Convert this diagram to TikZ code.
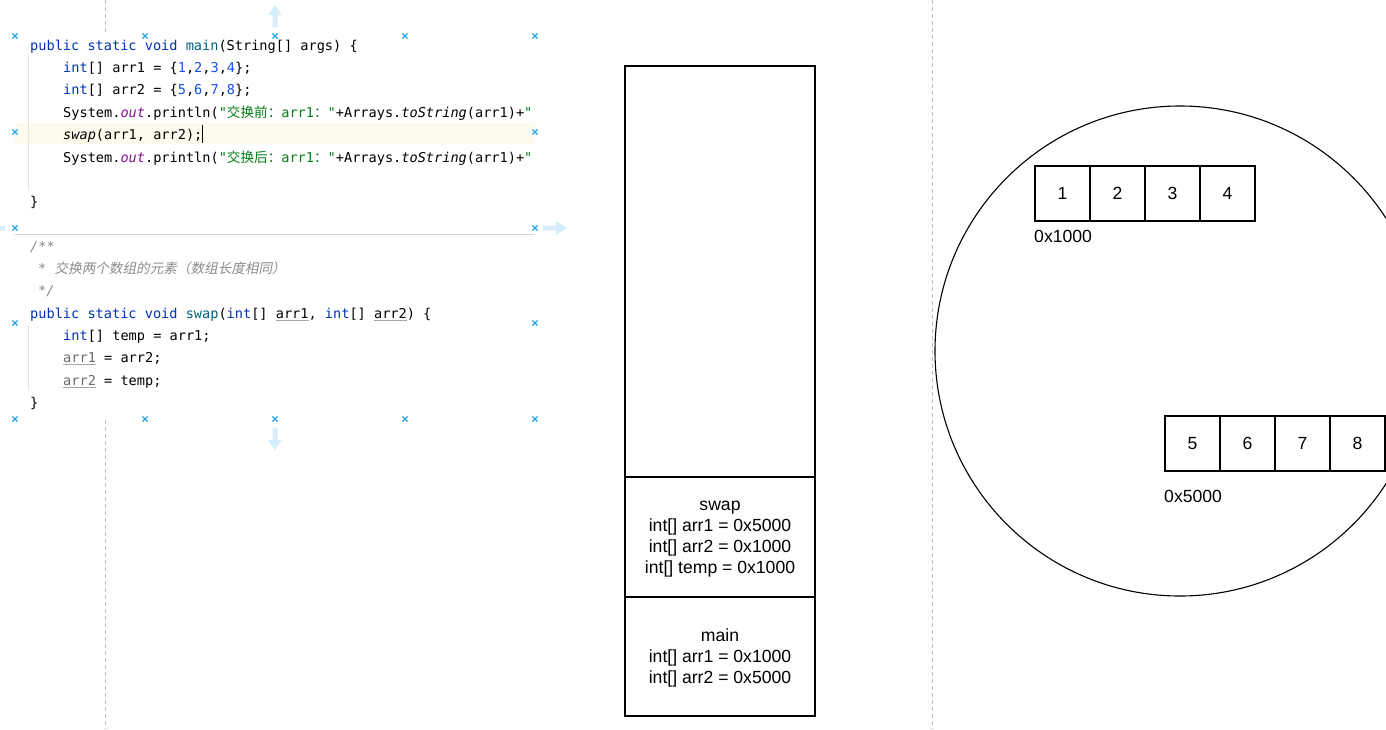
\documentclass[tikz,border=0pt]{standalone}
\usepackage{fontspec}
\setmainfont{Liberation Sans}
\newfontfamily\codefont{DejaVu Sans Mono}
\newfontfamily\cjkf{Noto Sans CJK SC}
\newfontfamily\cjkit[FakeSlant=0.2]{Noto Sans CJK SC}
\definecolor{kw}{HTML}{0033B3}
\definecolor{num}{HTML}{1750EB}
\definecolor{fn}{HTML}{00627A}
\definecolor{str}{HTML}{067D17}
\definecolor{field}{HTML}{871094}
\definecolor{cmt}{HTML}{8C8C8C}
\definecolor{reassign}{HTML}{6E6A66}
\definecolor{ulgray}{HTML}{A8A8A8}
\definecolor{markblue}{HTML}{2AA4EA}
\definecolor{arrowblue}{HTML}{D8EDFB}
\definecolor{hl}{HTML}{FCFAEC}
\definecolor{gutter}{HTML}{E4E4E4}
\definecolor{sepgray}{HTML}{D4D4D4}
\definecolor{dashgray}{HTML}{BEBEBE}
\newcommand\ulx[2][ulgray]{\setbox0=\hbox{#2}\rlap{\color{#1}\rule[-3pt]{\wd0}{0.9pt}}\box0\relax}
\newcommand\bluecross[2]{\draw[mk] (#1-2.6,#2-2.6) -- (#1+2.6,#2+2.6) (#1-2.6,#2+2.6) -- (#1+2.6,#2-2.6);}
\begin{document}
\begin{tikzpicture}[x=1pt,y=-1pt,
  codeline/.style={anchor=base west, inner sep=0, font=\codefont\fontsize{13.6}{16}\selectfont},
  mk/.style={draw=markblue, line width=1.1pt},
  guide/.style={draw=dashgray, line width=0.8pt, dash pattern=on 4pt off 3pt},
  framebox/.style={draw, line width=1.2pt, minimum width=190, inner sep=0},
  frametext/.style={align=center, inner sep=0, font=\fontsize{17.6}{21}\selectfont},
  cell/.style={draw, line width=1.1pt, minimum width=55, minimum height=55, inner sep=0, font=\fontsize{17.6}{21}\selectfont},
  addr/.style={anchor=west, inner sep=0, font=\fontsize{17.6}{21}\selectfont}]
\useasboundingbox (0,0) rectangle (1386,729);
\fill[white] (0,0) rectangle (1386,729);
% guides
\draw[guide] (105,0) -- (105,35);
\draw[guide] (105,420) -- (105,729);
\draw[guide] (932,0) -- (932,729);
% code area decorations
\fill[hl] (15,123) rectangle (535,144);
\draw[gutter, line width=0.8pt] (28,56) -- (28,190);
\draw[gutter, line width=0.8pt] (28,325) -- (28,390);
\draw[sepgray, line width=1pt] (15,234) -- (535,234);
\draw[black, line width=0.8pt] (202,125) -- (202,143);
% code
\node[codeline] (l1) at (30,50) {\textcolor{kw}{public static void} \textcolor{fn}{main}(String[] args) \{};
\node[codeline] (l2) at (63,72) {\textcolor{kw}{int}[] arr1 = \{\textcolor{num}{1},\textcolor{num}{2},\textcolor{num}{3},\textcolor{num}{4}\};};
\node[codeline] (l3) at (63,94) {\textcolor{kw}{int}[] arr2 = \{\textcolor{num}{5},\textcolor{num}{6},\textcolor{num}{7},\textcolor{num}{8}\};};
\node[codeline] (l4) at (63,117) {System.\textcolor{field}{\itshape out}.println(\textcolor{str}{"{\cjkf 交换前：}arr1{\cjkf ：}"}+Arrays.{\itshape toString}(arr1)+\textcolor{str}{"}};
\node[codeline] (l5) at (63,139) {{\itshape swap}(arr1, arr2);};
\node[codeline] (l6) at (63,162) {System.\textcolor{field}{\itshape out}.println(\textcolor{str}{"{\cjkf 交换后：}arr1{\cjkf ：}"}+Arrays.{\itshape toString}(arr1)+\textcolor{str}{"}};
\node[codeline] (l7) at (30,206) {\}};
\node[codeline, text=cmt] (l8) at (30,251) {\itshape /**};
\node[codeline, text=cmt] (l9) at (38,273) {{\itshape *} {\cjkit 交换两个数组的元素（数组长度相同）}};
\node[codeline, text=cmt] (l10) at (38,295) {\itshape */};
\node[codeline] (l11) at (30,318) {\textcolor{kw}{public static void} \textcolor{fn}{swap}(\textcolor{kw}{int}[] \ulx{arr1}, \textcolor{kw}{int}[] \ulx{arr2}) \{};
\node[codeline] (l12) at (63,340) {\textcolor{kw}{int}[] temp = arr1;};
\node[codeline] (l13) at (63,362) {\ulx{\textcolor{reassign}{arr1}} = arr2;};
\node[codeline] (l14) at (63,385) {\ulx{\textcolor{reassign}{arr2}} = temp;};
\node[codeline] (l15) at (30,407) {\}};
% selection markers
\foreach \xx in {15,145,275,405,535} {\bluecross{\xx}{36}\bluecross{\xx}{419}}
\foreach \yy in {132,228,323} {\bluecross{15}{\yy}\bluecross{535}{\yy}}
% resize arrows
\fill[arrowblue] (272.5,27) -- (272.5,15) -- (268,15) -- (275,5) -- (282,15) -- (277.5,15) -- (277.5,27) -- cycle;
\fill[arrowblue] (272.5,428) -- (272.5,440) -- (268,440) -- (275,450) -- (282,440) -- (277.5,440) -- (277.5,428) -- cycle;
\fill[arrowblue] (543,225.5) -- (556,225.5) -- (556,221) -- (567,228) -- (556,235) -- (556,230.5) -- (543,230.5) -- cycle;
\fill[arrowblue] (0,225.5) rectangle (5,230.5);
% stack
\node[framebox, minimum height=411] (heaptop) at (720,271.5) {};
\node[framebox, minimum height=120] (swapframe) at (720,537) {};
\node[framebox, minimum height=119] (mainframe) at (720,656.5) {};
\node[frametext] (swaptext) at ([yshift=-2pt]swapframe.center) {swap\\int[] arr1 = 0x5000\\int[] arr2 = 0x1000\\int[] temp = 0x1000};
\node[frametext] (maintext) at ([yshift=-1.5pt]mainframe.center) {main\\int[] arr1 = 0x1000\\int[] arr2 = 0x5000};
% heap
\begin{scope}
\clip (0,0) rectangle (1386,729);
\draw[line width=1.1pt] (1180,351) circle[radius=245];
\end{scope}
\node[cell] (a1) at (1062.5,193.5) {1};
\node[cell] (a2) at (1117.5,193.5) {2};
\node[cell] (a3) at (1172.5,193.5) {3};
\node[cell] (a4) at (1227.5,193.5) {4};
\node[addr] (addr1) at (1034,236) {0x1000};
\node[cell] (b1) at (1192.5,443.5) {5};
\node[cell] (b2) at (1247.5,443.5) {6};
\node[cell] (b3) at (1302.5,443.5) {7};
\node[cell] (b4) at (1357.5,443.5) {8};
\node[addr] (addr2) at (1164,496) {0x5000};
\end{tikzpicture}
\end{document}
